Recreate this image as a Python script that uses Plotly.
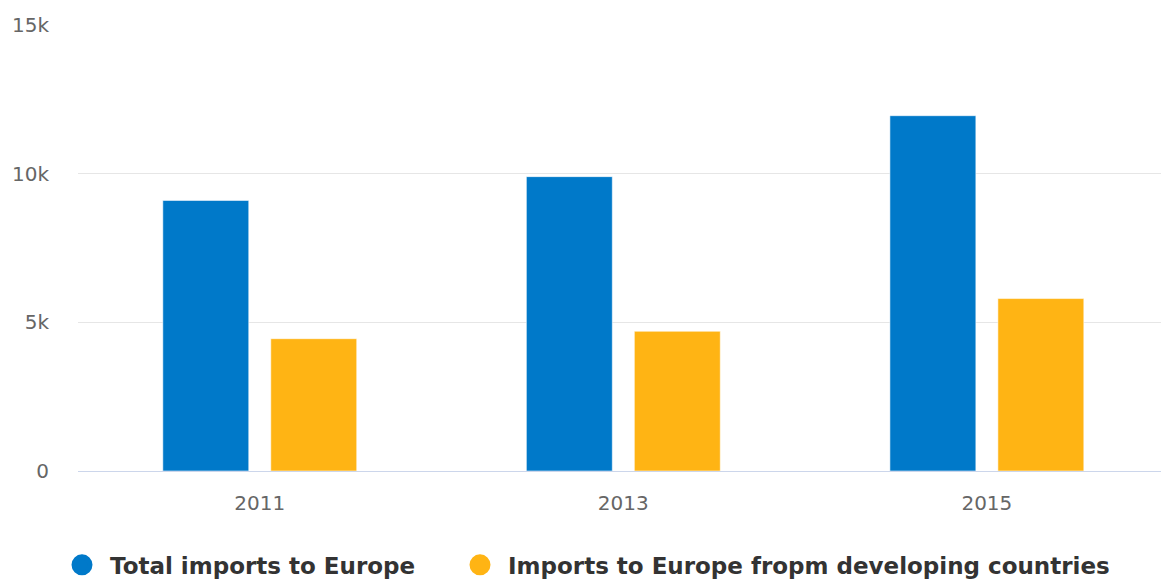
import plotly.graph_objects as go

years = ["2011", "2013", "2015"]
total_imports = [9100, 9900, 11950]
developing_imports = [4450, 4700, 5800]
series_names = ["Total imports to Europe", "Imports to Europe fropm developing countries"]
colors = ["#0079c9", "#ffb414"]
y_tickvals = [0, 5000, 10000, 15000]
y_ticktext = ["0", "5k", "10k", "15k"]

fig = go.Figure()
for name, vals, col in zip(series_names, [total_imports, developing_imports], colors):
    fig.add_trace(go.Bar(
        x=years, y=vals, name=name, showlegend=False,
        marker=dict(color=col, line=dict(color="rgba(255,255,255,0.55)", width=1)),
    ))
# legend entries drawn as circles, one legend per entry for exact placement
for name, col, lg in zip(series_names, colors, ["legend", "legend2"]):
    fig.add_trace(go.Scatter(
        x=[None], y=[None], mode="markers", name=name, legend=lg,
        marker=dict(symbol="circle", size=18, color=col, line=dict(color=col, width=5)),
    ))

legend_common = dict(
    orientation="h", xref="container", yref="container",
    xanchor="left", y=0.026, yanchor="middle",
    font=dict(family="DejaVu Sans", size=23, color="#333333", weight="bold"),
    itemsizing="trace", itemwidth=46, bgcolor="rgba(0,0,0,0)",
)

fig.update_layout(
    width=1161, height=580,
    margin=dict(l=78, r=0, t=25, b=109),
    paper_bgcolor="white", plot_bgcolor="white",
    barmode="group", bargap=0.406, bargroupgap=0.204,
    font=dict(family="DejaVu Sans", color="#666666"),
    legend=dict(x=54 / 1161, **legend_common),
    legend2=dict(x=452 / 1161, **legend_common),
    xaxis=dict(
        type="category", range=[-0.5, 2.479],
        showgrid=False, showline=True, linecolor="#ccd6eb", linewidth=1,
        ticks="", tickfont=dict(size=20, color="#666666"),
        ticklabelstandoff=14, zeroline=False,
    ),
    yaxis=dict(
        range=[0, 15000], tickvals=y_tickvals, ticktext=y_ticktext,
        showgrid=True, gridcolor="#e6e6e6", gridwidth=1,
        zeroline=False, showline=False, ticks="",
        tickfont=dict(size=20, color="#666666"), ticklabelstandoff=28,
    ),
)

fig.write_html("out.html")
